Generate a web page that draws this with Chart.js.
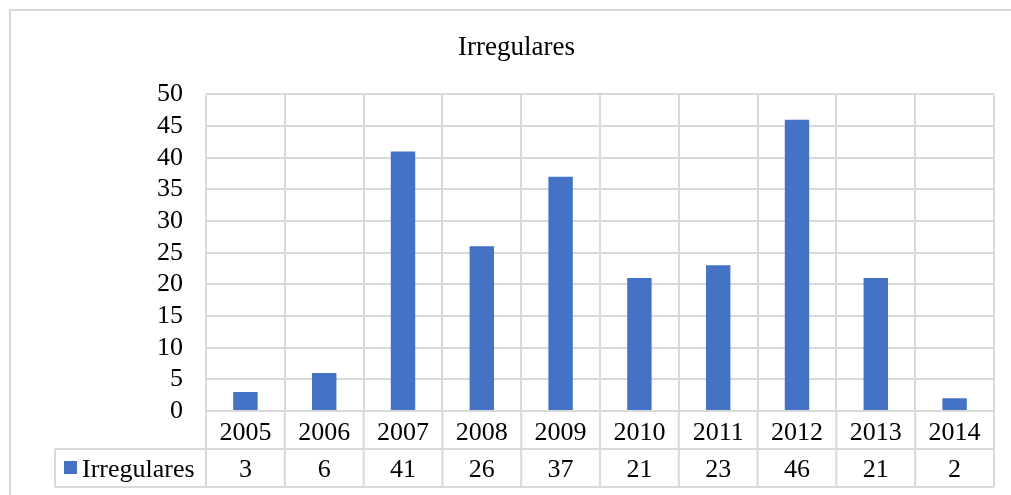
<!DOCTYPE html>
<html>
<head>
<meta charset="utf-8">
<script src="https://cdn.jsdelivr.net/npm/chart.js@4/dist/chart.umd.min.js"></script>
<style>
	body { margin: 0; background: #ffffff; }
	#wrap { width: 1011px; height: 495px; }
</style>
</head>
<body>
<div id="wrap"><canvas id="ChartA" width="1011" height="495"></canvas></div>
<script>
var years = ["2005", "2006", "2007", "2008", "2009", "2010", "2011", "2012", "2013", "2014"];
var irregularesData = [3, 6, 41, 26, 37, 21, 23, 46, 21, 2];
var seriesName = "Irregulares";

var lineColor = "#d9d9d9";
var barColor = "#4472c4";
var serifFont = "'Liberation Serif', 'Times New Roman', serif";

//frame round the whole chart, like the excel chart border
var framePlugin =
{
	id: "frame",
	beforeDraw: function(chart)
	{
		var ctx = chart.ctx;
		ctx.save();
		ctx.strokeStyle = lineColor;
		ctx.lineWidth = 2;
		ctx.strokeRect(10, 10, 1010, 500);
		ctx.restore();
	}
};

//the data table under the bars: year row and the value row with the legend key
var dataTablePlugin =
{
	id: "dataTable",
	afterDraw: function(chart)
	{
		var ctx = chart.ctx;
		var xScale = chart.scales.x;
		var area = chart.chartArea;
		var rowTop = area.bottom;
		var rowMid = rowTop + 38;
		var rowBottom = rowMid + 38;
		var tableLeft = 55;

		ctx.save();
		ctx.strokeStyle = lineColor;
		ctx.lineWidth = 2;

		ctx.beginPath();
		ctx.moveTo(tableLeft, rowMid);
		ctx.lineTo(area.right, rowMid);
		ctx.moveTo(tableLeft, rowBottom);
		ctx.lineTo(area.right, rowBottom);
		ctx.moveTo(tableLeft, rowMid);
		ctx.lineTo(tableLeft, rowBottom);
		for (var i = 0; i <= years.length; i++)
		{
			var bx = area.left + (area.right - area.left) * i / years.length;
			ctx.moveTo(bx, rowTop);
			ctx.lineTo(bx, rowBottom);
		}
		ctx.stroke();

		ctx.fillStyle = "#000000";
		ctx.font = "26px " + serifFont;
		ctx.textAlign = "center";
		ctx.textBaseline = "alphabetic";
		for (var j = 0; j < years.length; j++)
		{
			var cx = xScale.getPixelForValue(j);
			ctx.fillText(years[j], cx, rowTop + 29);
			ctx.fillText(String(irregularesData[j]), cx, rowMid + 28);
		}

		//legend key in the first cell
		ctx.fillStyle = barColor;
		ctx.fillRect(64, rowMid + 12, 13, 13);
		ctx.fillStyle = "#000000";
		ctx.textAlign = "left";
		ctx.fillText(seriesName, 82, rowMid + 28);
		ctx.restore();
	}
};

new Chart("ChartA",
{
	type: "bar",
	data:
	{
		labels: years,
		datasets: [
		{
			label: seriesName,
			data: irregularesData,
			backgroundColor: barColor,
			barPercentage: 0.31,
			categoryPercentage: 1.0
		}]
	},
	options:
	{
		responsive: false,
		animation: false,
		layout: {padding: {top: 32, right: 17, left: 39, bottom: 0}},
		plugins:
		{
			legend: {display: false},
			tooltip: {enabled: false},
			title:
			{
				display: true,
				text: seriesName,
				color: "#000000",
				font: {family: serifFont, size: 27, weight: "normal", lineHeight: 1.2},
				padding: {top: 0, bottom: 30}
			}
		},
		scales:
		{
			x:
			{
				ticks: {display: false},
				grid: {color: lineColor, lineWidth: 2, drawTicks: false, offset: true},
				border: {display: false},
				afterFit: function(scale) { scale.height = 84; }
			},
			y:
			{
				min: 0,
				max: 50,
				ticks: {stepSize: 5, autoSkip: false, color: "#000000", padding: 23, font: {family: serifFont, size: 26}},
				grid: {color: lineColor, lineWidth: 2, drawTicks: false},
				border: {display: false},
				afterFit: function(scale) { scale.width = 167; }
			}
		}
	},
	plugins: [framePlugin, dataTablePlugin]
});
</script>
</body>
</html>
